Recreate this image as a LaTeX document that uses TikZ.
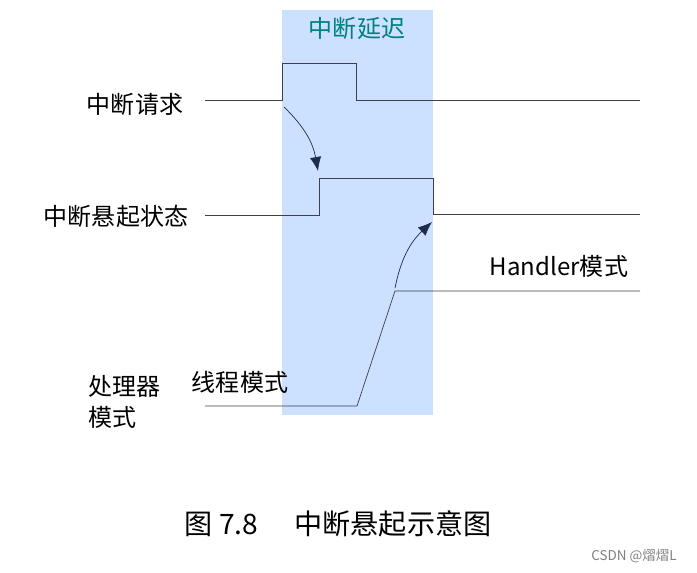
\documentclass[tikz,border=0pt]{standalone}
\usepackage{fontspec}
\setmainfont{Noto Sans CJK SC}
\usetikzlibrary{arrows.meta}
\definecolor{delayblue}{RGB}{204,224,255}
\definecolor{delayteal}{RGB}{0,128,128}
\definecolor{sigline}{RGB}{60,64,72}
\definecolor{arrownavy}{RGB}{31,45,77}
\tikzset{
  lbl/.style = {font=\fontsize{20.5}{24}\selectfont, inner sep=0pt},
  signal/.style = {draw=sigline, line width=0.6pt},
  cause/.style = {draw=arrownavy, line width=0.6pt, -{Latex[length=4.2mm,width=3.4mm]}},
}
\begin{document}
\begin{tikzpicture}[x=0.3mm, y=-0.3mm]
\useasboundingbox (0,0) rectangle (697,573);
% interrupt latency window
\fill[delayblue] (282,10) rectangle (433,415);
\node[lbl, text=delayteal] (delay) at (357,28) {中断延迟};

% signal names
\node[lbl] (req) at (135,104) {中断请求};
\node[lbl] (pend) at (116,216) {中断悬起状态};
\node[lbl, align=left, anchor=west] (mode) at (88,402) {处理器\\[2pt]模式};
\node[lbl] (thread) at (240,382) {线程模式};
\node[lbl] (handler) at (559,266) {Handler模式};

% interrupt request
\coordinate (r0) at (205,100);
\coordinate (rup) at (282,63);
\coordinate (r1) at (640,100);
\draw[signal] (r0) -| (rup) -| (356,100) -- (r1);

% pending state
\coordinate (p0) at (205,215);
\coordinate (pup) at (319,178);
\coordinate (pdn) at (433,214);
\coordinate (p1) at (640,214);
\draw[signal] (p0) -| (pup) -| (pdn) -- (p1);

% processor mode
\coordinate (m0) at (205,406);
\coordinate (m1) at (357,406);
\coordinate (m2) at (395,291);
\coordinate (m3) at (640,291);
\draw[signal] (m0) -- (m1) -- (m2) -- (m3);

% causal arrows
\coordinate (a1s) at (284,107);
\coordinate (a1e) at (318,171);
\coordinate (a2s) at (395,288);
\coordinate (a2e) at (432,222);
\draw[cause] (a1s) to[bend left=18] (a1e);
\draw[cause] (a2s) to[bend left=18] (a2e);

% caption
\node[font=\fontsize{24}{28}\selectfont] (caption) at (338,524) {图 7.8\hspace{1.3em}中断悬起示意图};
\node[font=\fontsize{11.5}{13}\selectfont, text=gray] (mark) at (634,556) {CSDN @熠熠L};
\end{tikzpicture}
\end{document}
